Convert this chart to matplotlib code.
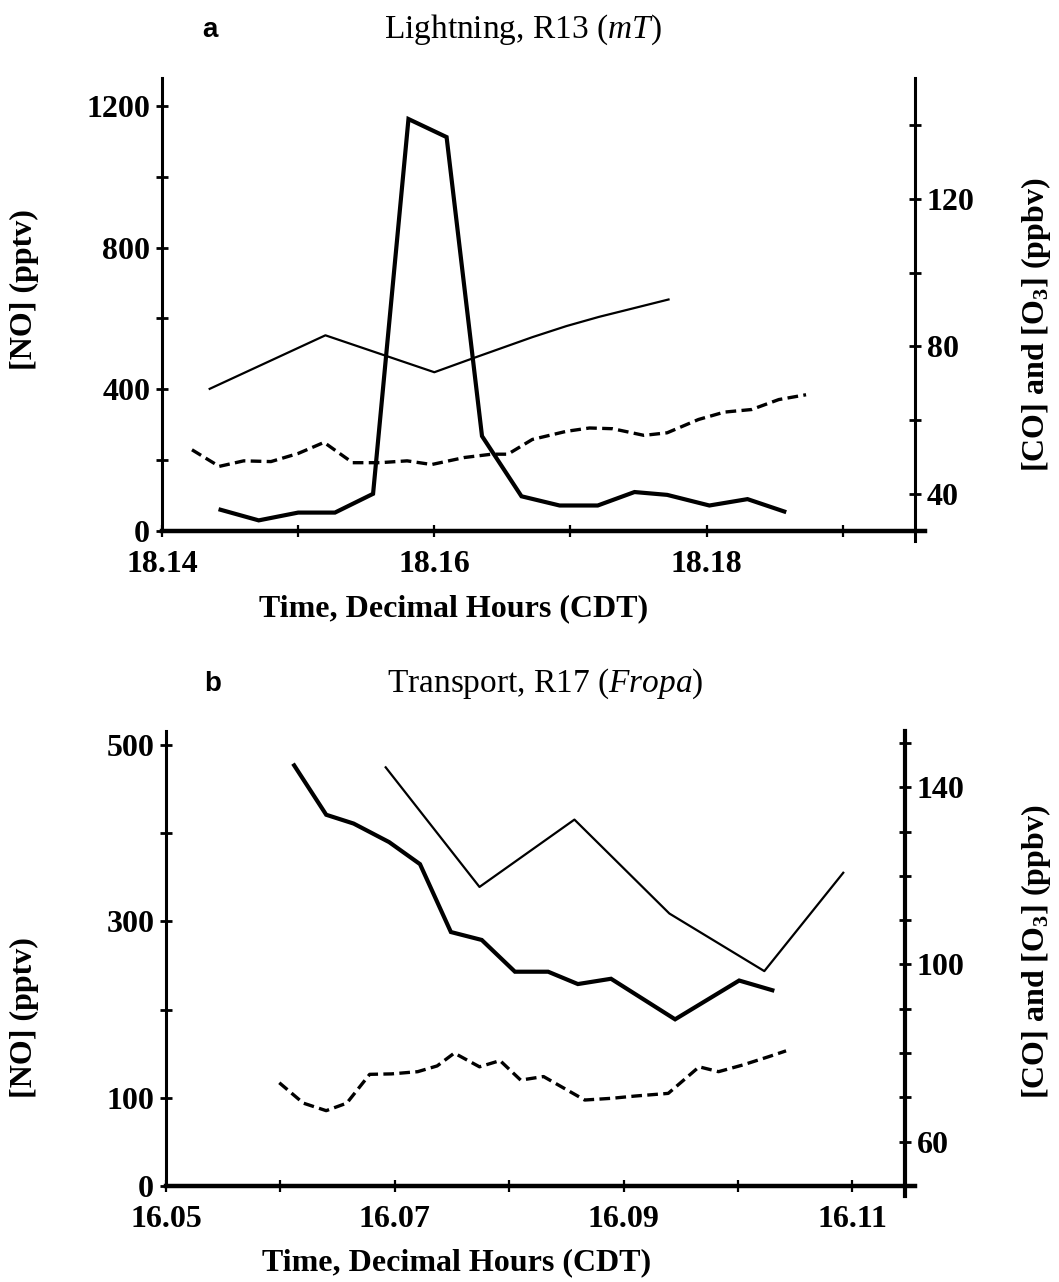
import matplotlib
matplotlib.use("Agg")
import matplotlib.pyplot as plt

# ---- panel a: Lightning, R13 ----
a_no_time = [18.1443, 18.1471, 18.1500, 18.1527, 18.1555, 18.1581, 18.1609, 18.1635,
             18.1664, 18.1692, 18.1720, 18.1747, 18.1771, 18.1802, 18.1830, 18.1857]
a_no = [60, 30, 52, 52, 105, 1163, 1112, 268, 98, 72, 72, 110, 102, 72, 90, 55]

a_o3_time = [18.1435, 18.1520, 18.1600, 18.1630, 18.1672, 18.1697, 18.1721, 18.1746, 18.1772]
a_o3 = [68.5, 83.0, 73.0, 77.0, 82.5, 85.5, 88.0, 90.3, 92.7]

a_co_time = [18.1422, 18.1442, 18.1460, 18.1480, 18.1500, 18.1519, 18.1540, 18.1560,
             18.1580, 18.1598, 18.1622, 18.1642, 18.1654, 18.1672, 18.1697, 18.1714,
             18.1731, 18.1754, 18.1771, 18.1794, 18.1813, 18.1833, 18.1853, 18.1873]
a_co = [52.0, 47.5, 49.0, 48.8, 51.0, 54.0, 48.5, 48.5, 49.0, 48.0, 49.9, 50.8,
        50.8, 54.8, 57.0, 57.9, 57.7, 55.9, 56.6, 60.2, 62.2, 62.9, 65.6, 66.9]

a_xticks = [18.14, 18.15, 18.16, 18.17, 18.18, 18.19]
a_xlabels = ["18.14", "", "18.16", "", "18.18", ""]
a_yticks = [0, 200, 400, 600, 800, 1000, 1200]
a_ylabels = ["0", "", "400", "", "800", "", "1200"]
a_rticks = [40, 60, 80, 100, 120, 140]
a_rlabels = ["40", "", "80", "", "120", ""]

# ---- panel b: Transport, R17 ----
b_no_time = [16.0612, 16.0640, 16.0664, 16.0695, 16.0722, 16.0749, 16.0776, 16.0805,
             16.0834, 16.0860, 16.0889, 16.0945, 16.1001, 16.1030]
b_no = [477, 421, 411, 390, 365, 288, 279, 243, 243, 229, 235, 189, 233, 222]

b_o3_time = [16.0692, 16.0774, 16.0857, 16.0940, 16.1023, 16.1092]
b_o3 = [144.5, 117.5, 132.7, 111.5, 98.5, 120.7]

b_co_time = [16.0599, 16.0620, 16.0640, 16.0658, 16.0678, 16.0697, 16.0720, 16.0737,
             16.0752, 16.0774, 16.0792, 16.0810, 16.0830, 16.0866, 16.0890, 16.0910,
             16.0939, 16.0966, 16.0983, 16.1004, 16.1027, 16.1042]
b_co = [73.3, 68.7, 67.0, 68.7, 75.2, 75.3, 75.8, 77.1, 80.0, 76.9, 78.3, 73.9,
        74.7, 69.4, 69.8, 70.3, 70.9, 76.9, 75.8, 77.3, 79.2, 80.5]

b_xticks = [16.05, 16.06, 16.07, 16.08, 16.09, 16.10, 16.11]
b_xlabels = ["16.05", "", "16.07", "", "16.09", "", "16.11"]
b_yticks = [0, 100, 200, 300, 400, 500]
b_ylabels = ["0", "100", "", "300", "", "500"]
b_rticks = [60, 70, 80, 90, 100, 110, 120, 130, 140, 150]
b_rlabels = ["60", "", "", "", "100", "", "", "", "140", ""]

plt.rcParams["font.family"] = ["Liberation Serif", "DejaVu Serif"]
plt.rcParams["mathtext.fontset"] = "custom"
plt.rcParams["mathtext.rm"] = "Liberation Serif"
plt.rcParams["mathtext.it"] = "Liberation Serif:italic"
plt.rcParams["mathtext.bf"] = "Liberation Serif:bold"

TICK_FS = 23
LABEL_FS = 23
TITLE_FS = 24


def style_axis(ax, side, lw):
    for s in ["top", "right", "left", "bottom"]:
        ax.spines[s].set_visible(False)
    ax.spines[side].set_visible(True)
    ax.spines[side].set_linewidth(lw)
    ax.tick_params(axis="y", which="both", direction="inout", length=9, width=2,
                   labelsize=TICK_FS, pad=4,
                   left=(side == "left"), labelleft=(side == "left"),
                   right=(side == "right"), labelright=(side == "right"))
    for lbl in ax.get_yticklabels():
        lbl.set_fontweight("bold")


def draw_panel(rect, xlim, xticks, xlabels, ylim, yticks, ylabels, rlim, rticks, rlabels,
               no_t, no, o3_t, o3, co_t, co, right_lw=2.2):
    ax = fig.add_axes(rect)
    ax.patch.set_alpha(0)
    ax.set_xlim(*xlim)
    ax.set_ylim(*ylim)
    ax.set_yticks(yticks)
    ax.set_yticklabels(ylabels)
    style_axis(ax, "left", 2.2)
    ax.spines["bottom"].set_visible(True)
    ax.spines["bottom"].set_linewidth(3.2)
    ax.spines["bottom"].set_bounds(xlim[0], xlim[1] + (xlim[1] - xlim[0]) * 0.013)
    ax.set_xticks(xticks)
    ax.set_xticklabels(xlabels)
    ax.tick_params(axis="x", direction="inout", length=9, width=1.6,
                   labelsize=TICK_FS, pad=9)
    for lbl in ax.get_xticklabels():
        lbl.set_fontweight("bold")

    ax.plot(no_t, no, color="black", lw=3.0, solid_joinstyle="miter")

    ax2 = ax.twinx()
    ax2.set_xlim(*xlim)
    ax2.set_ylim(*rlim)
    ax2.set_yticks(rticks)
    ax2.set_yticklabels(rlabels)
    style_axis(ax2, "right", right_lw)
    ax2.spines["right"].set_bounds(rlim[0] - (rlim[1] - rlim[0]) * 0.022, rlim[1])
    ax2.plot(o3_t, o3, color="black", lw=1.6)
    ax2.plot(co_t, co, color="black", lw=2.4, linestyle=(0, (3.2, 1.6)))
    return ax, ax2


fig = plt.figure(figsize=(10.59, 12.82), dpi=100)

# panel a
draw_panel([0.153, 0.5858, 0.711, 0.3534], (18.14, 18.1953), a_xticks, a_xlabels,
           (0, 1279), a_yticks, a_ylabels, (30, 152.7), a_rticks, a_rlabels,
           a_no_time, a_no, a_o3_time, a_o3, a_co_time, a_co)

# panel b
draw_panel([0.1568, 0.0749, 0.6978, 0.3549], (16.05, 16.1146), b_xticks, b_xlabels,
           (0, 516), b_yticks, b_ylabels, (50, 152.7), b_rticks, b_rlabels,
           b_no_time, b_no, b_o3_time, b_o3, b_co_time, b_co, right_lw=3.0)

# panel letters and titles
fig.text(0.198, 0.9766, "a", family="Liberation Sans", weight="bold", fontsize=20,
         ha="center", va="center")
fig.text(0.494, 0.9766, r"Lightning, R13 ($\mathit{mT}$)", fontsize=TITLE_FS,
         ha="center", va="center")
fig.text(0.201, 0.4665, "b", family="Liberation Sans", weight="bold", fontsize=20,
         ha="center", va="center")
fig.text(0.515, 0.4665, r"Transport, R17 ($\mathit{Fropa}$)", fontsize=TITLE_FS,
         ha="center", va="center")

# axis labels
fig.text(0.4287, 0.525, "Time, Decimal Hours (CDT)", fontsize=LABEL_FS, weight="bold",
         ha="center", va="center")
fig.text(0.4315, 0.0150, "Time, Decimal Hours (CDT)", fontsize=LABEL_FS, weight="bold",
         ha="center", va="center")
fig.text(0.0227, 0.774, "[NO] (pptv)", fontsize=LABEL_FS, weight="bold", rotation=90,
         ha="center", va="center")
fig.text(0.0227, 0.206, "[NO] (pptv)", fontsize=LABEL_FS, weight="bold", rotation=90,
         ha="center", va="center")
fig.text(0.978, 0.747, r"[CO] and [O$_{\mathbf{3}}$] (ppbv)", fontsize=LABEL_FS,
         weight="bold", rotation=90, ha="center", va="center")
fig.text(0.978, 0.258, r"[CO] and [O$_{\mathbf{3}}$] (ppbv)", fontsize=LABEL_FS,
         weight="bold", rotation=90, ha="center", va="center")

fig.savefig("out.png", dpi=100)
